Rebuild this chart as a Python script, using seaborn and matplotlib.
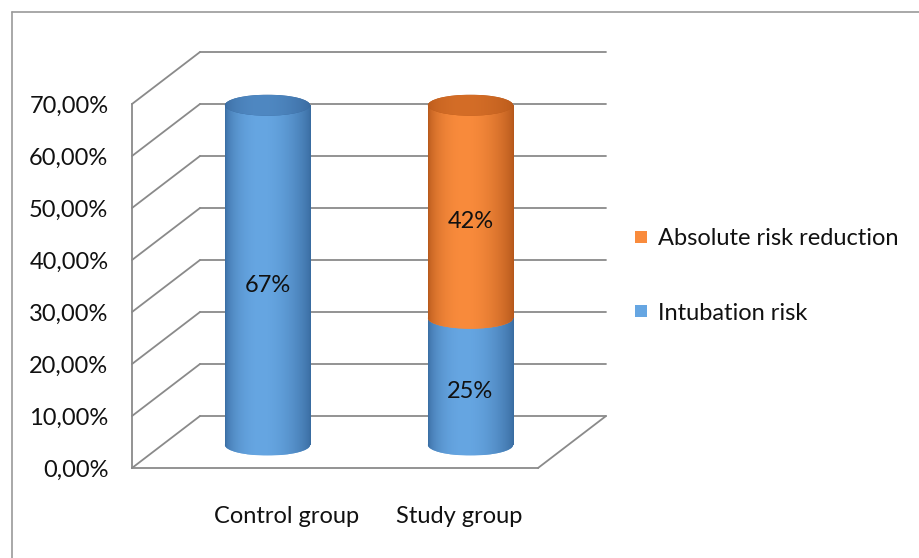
import numpy as np
import pandas as pd
import matplotlib
matplotlib.use("Agg")
import matplotlib.pyplot as plt
import seaborn as sns
from matplotlib.patches import Ellipse
from matplotlib.lines import Line2D
from matplotlib.ticker import MultipleLocator, FuncFormatter
from matplotlib.colors import to_rgb
from matplotlib.transforms import ScaledTranslation

# data
groups = ["Control group", "Study group"]
intubation_risk = [0.67, 0.25]
risk_reduction = [0.0, 0.42]
series_names = ["Intubation risk", "Absolute risk reduction"]
y_max = 0.70
y_step = 0.10

sns.set_style("white")
plt.rcParams["font.family"] = ["Lato", "DejaVu Sans"]
FS = 17
GRID = "#8A8A8A"
TXT = "#111111"

# colours: (dark edge, light centre, top cap dark, top cap light)
BLUE = ("#386A9F", "#66A6E2", "#39699E", "#4F88C2")
ORANGE = ("#B3561A", "#F98B3C", "#B95A1B", "#D46D27")

W, H = 919, 558
fig = plt.figure(figsize=(W / 100, H / 100), dpi=100)


def px_box(left, top, right, bottom):
    return [left / W, 1 - bottom / H, (right - left) / W, (bottom - top) / H]


# front plane with the axis, the pseudo 3d walls are drawn behind it
ax = fig.add_axes(px_box(132, 104, 538, 468))
# plane in the middle of the depth, where the cylinders stand
y_low = -0.05
bx = fig.add_axes(px_box(166, 90, 572, 445 + 355 * (-y_low) / y_max))

# depth offset of the back wall, in data units of ax
depth_dx, depth_dy = 0.335, 0.10

ax.set_xlim(-0.5, 1.5)
ax.set_ylim(0, y_max)
ax.set_facecolor("none")
ticks = np.arange(0, y_max + y_step / 2, y_step)
for v in ticks:
    ax.plot([-0.5 + depth_dx, 1.5 + depth_dx], [v + depth_dy] * 2,
            color=GRID, lw=1.3, clip_on=False, zorder=1)
    ax.plot([-0.5, -0.5 + depth_dx], [v, v + depth_dy],
            color=GRID, lw=1.3, clip_on=False, zorder=1)
ax.plot([1.5, 1.5 + depth_dx], [0, depth_dy], color=GRID, lw=1.3, clip_on=False, zorder=1)

ax.yaxis.set_major_locator(MultipleLocator(y_step))
ax.yaxis.set_major_formatter(FuncFormatter(lambda v, p: f"{v * 100:.2f}%".replace(".", ",")))
ax.set_xticks([-0.5, 0.5, 1.5])
ax.set_xticklabels([])
ax.tick_params(axis="both", direction="out", length=4, width=1.2, color=GRID)
ax.tick_params(axis="y", labelsize=FS, pad=13, labelcolor=TXT)
for s in ["top", "right"]:
    ax.spines[s].set_visible(False)
for s in ["left", "bottom"]:
    ax.spines[s].set_color(GRID)
    ax.spines[s].set_linewidth(1.3)

# cylinders
df = pd.DataFrame({"group": groups,
                   series_names[0]: intubation_risk,
                   series_names[1]: risk_reduction})
sns.barplot(data=df, x="group", y=series_names[0], color=BLUE[1], saturation=1,
            width=0.42, errorbar=None, edgecolor="none", linewidth=0, ax=bx)
sns.barplot(data=df, x="group", y=series_names[1], color=ORANGE[1], saturation=1,
            width=0.42, errorbar=None, edgecolor="none", linewidth=0,
            bottom=df[series_names[0]].values, ax=bx)


def gradient(dark, light, n=256):
    t = np.linspace(0, 1, n)
    f = np.sin(np.pi * t ** 0.8) ** 0.7
    d, l = np.array(to_rgb(dark)), np.array(to_rgb(light))
    return (d + (l - d) * f[:, None])[None, :, :]


n = len(groups)
layers = [(bx.patches[:n], BLUE), (bx.patches[n:2 * n], ORANGE)]
cap_h = 21 / 355 * y_max
tops = {}
for i, (bars, col) in enumerate(layers):
    for j, bar in enumerate(bars):
        x0, y0, w, h = bar.get_x(), bar.get_y(), bar.get_width(), bar.get_height()
        if h <= 0:
            continue
        cx = x0 + w / 2
        bar.set_zorder(3 + 2 * i)
        im = bx.imshow(gradient(col[0], col[1]), extent=[x0, x0 + w, y0, y0 + h],
                       aspect="auto", zorder=3.5 + 2 * i)
        im.set_clip_path(bar)
        # lower rim of the segment
        el = Ellipse((cx, y0), w, cap_h, facecolor=col[1], edgecolor="none", zorder=2 + 2 * i)
        bx.add_patch(el)
        im2 = bx.imshow(gradient(col[0], col[1]), extent=[x0, x0 + w, y0 - cap_h / 2, y0 + cap_h / 2],
                        aspect="auto", zorder=2.5 + 2 * i)
        im2.set_clip_path(el)
        tops[j] = (cx, w, y0 + h, col)
        bx.annotate(f"{h * 100:.0f}%", (cx, y0 + h / 2), xytext=(0, -10),
                    textcoords="offset pixels", ha="center", va="center",
                    fontsize=FS, color=TXT, zorder=20)

for j, (cx, w, top, col) in tops.items():
    el = Ellipse((cx, top), w, cap_h, facecolor=col[2], edgecolor="none", zorder=10)
    bx.add_patch(el)
    im = bx.imshow(gradient(col[2], col[3]), extent=[cx - w / 2, cx + w / 2, top - cap_h / 2, top + cap_h / 2],
                   aspect="auto", zorder=10.5)
    im.set_clip_path(el)

bx.set_xlim(-0.5, 1.5)
bx.set_ylim(y_low, y_max)
bx.set_facecolor("none")
bx.set_yticks([])
bx.set_xlabel("")
bx.set_ylabel("")
bx.tick_params(axis="x", length=0, pad=26, labelsize=FS, labelcolor=TXT)
for s in bx.spines.values():
    s.set_visible(False)
# the 3d perspective pulls the category labels towards the middle
for lab, shift in zip(bx.get_xticklabels(), [0.19, -0.11]):
    lab.set_transform(lab.get_transform() + ScaledTranslation(shift, 0, fig.dpi_scale_trans))

# legend
handles = [Line2D([], [], marker="s", ls="none", markersize=8, color=ORANGE[1], markeredgewidth=0),
           Line2D([], [], marker="s", ls="none", markersize=8, color=BLUE[1], markeredgewidth=0)]
fig.legend(handles, [series_names[1], series_names[0]], loc="center left",
           bbox_to_anchor=(634 / W, 1 - 276 / H), frameon=False, fontsize=FS,
           labelspacing=2.25, handlelength=0.6, handletextpad=0.4,
           borderpad=0, borderaxespad=0, labelcolor=TXT)

# chart frame
fig.add_artist(Line2D([12 / W, 12 / W], [0, 1 - 12 / H], transform=fig.transFigure, color="#9A9A9A", lw=1.2))
fig.add_artist(Line2D([12 / W, 1], [1 - 12 / H, 1 - 12 / H], transform=fig.transFigure, color="#9A9A9A", lw=1.2))

fig.savefig("out.png", dpi=100)
